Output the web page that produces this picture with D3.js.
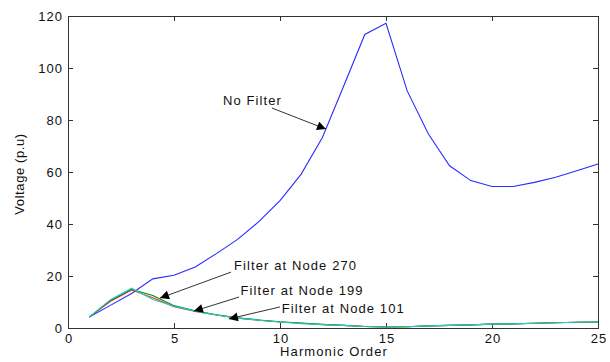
<!DOCTYPE html>
<html>
  <head>
    <title>Harmonic voltage</title>
    <script src="https://cdn.jsdelivr.net/npm/d3@7"></script>
    <style>
      body { margin: 0; background: #fff; }
      text { font-family: Arial, "Liberation Sans", sans-serif; letter-spacing: 1px; }
    </style>
  </head>
  <body>
    <svg width="610" height="362" id="mainsvg"></svg>
    <script>
        // data
        const harmonics = d3.range(1, 26);
        const noFilter = [4.2, 8.7, 13.3, 18.9, 20.3, 23.5, 28.6, 34.1, 40.9, 49, 59.2, 73.3, 93, 112.9, 117.2,
                          91.2, 74.6, 62.4, 56.7, 54.4, 54.4, 56, 58, 60.5, 63.1];
        const node270 = [4.2, 10.3, 14.6, 11.6, 8.2, 6.4, 5.0, 3.8, 3.0, 2.3, 1.8, 1.3, 1.0, 0.6, 0.4,
                         0.5, 0.8, 1.0, 1.2, 1.5, 1.6, 1.8, 2.0, 2.2, 2.3];
        const node199 = [4.2, 10.6, 14.9, 12.5, 8.6, 6.6, 5.1, 3.9, 3.1, 2.4, 1.9, 1.4, 1.0, 0.6, 0.4,
                         0.5, 0.8, 1.0, 1.2, 1.5, 1.6, 1.8, 2.0, 2.2, 2.3];
        const node101 = [4.2, 10.9, 15.3, 11.0, 8.4, 6.5, 5.0, 3.8, 3.0, 2.3, 1.7, 1.3, 1.0, 0.6, 0.4,
                         0.5, 0.8, 1.0, 1.2, 1.5, 1.6, 1.8, 2.0, 2.2, 2.3];
        const xTicks = [0, 5, 10, 15, 20, 25];
        const yTicks = [0, 20, 40, 60, 80, 100, 120];

        const series = [
          {name: 'No Filter', values: noFilter, color: '#2b2bff'},
          {name: 'Filter at Node 270', values: node270, color: '#ff2020'},
          {name: 'Filter at Node 199', values: node199, color: '#008a00'},
          {name: 'Filter at Node 101', values: node101, color: '#22cccc'}
        ];

        // label text position + arrow tail -> tip, in data units
        const notes = [
          {text: 'No Filter', tx: 7.31, ty: 85.8, x1: 9.62, y1: 84.6, x2: 12.17, y2: 76.5},
          {text: 'Filter at Node 270', tx: 7.83, ty: 22.3, x1: 7.69, y1: 21.5, x2: 4.34, y2: 11.5},
          {text: 'Filter at Node 199', tx: 8.14, ty: 12.7, x1: 8.07, y1: 11.9, x2: 5.94, y2: 6.5},
          {text: 'Filter at Node 101', tx: 10.08, ty: 5.8, x1: 10.0, y1: 8.1, x2: 7.59, y2: 3.5}
        ];

        const svg = d3.select('#mainsvg');
        const margin = {top: 16, right: 12, bottom: 34, left: 68};
        const innerWidth = 610 - margin.left - margin.right;
        const innerHeight = 362 - margin.top - margin.bottom;

        const g = svg.append('g')
          .attr('transform', `translate(${margin.left}, ${margin.top})`);

        const xScale = d3.scaleLinear().domain([0, 25]).range([0, innerWidth]);
        const yScale = d3.scaleLinear().domain([0, 120]).range([innerHeight, 0]);

        const axisColor = '#333';
        // MATLAB style: ticks point inward on all four sides
        const xAxis = g.append('g').attr('transform', `translate(0, ${innerHeight})`)
          .call(d3.axisBottom(xScale).tickValues(xTicks).tickSize(-5).tickPadding(6));
        const xTop = g.append('g')
          .call(d3.axisTop(xScale).tickValues(xTicks).tickSize(-5).tickFormat(''));
        const yAxis = g.append('g')
          .call(d3.axisLeft(yScale).tickValues(yTicks).tickSize(-5).tickPadding(5));
        const yRight = g.append('g').attr('transform', `translate(${innerWidth}, 0)`)
          .call(d3.axisRight(yScale).tickValues(yTicks).tickSize(-5).tickFormat(''));

        [xAxis, xTop, yAxis, yRight].forEach(a => {
          a.select('.domain').attr('stroke', axisColor);
          a.selectAll('.tick line').attr('stroke', axisColor);
          a.selectAll('.tick text').attr('font-size', 13).attr('fill', '#111');
        });
        xAxis.selectAll('.tick text').attr('dx', '0.5px');

        const line = d3.line()
          .x((d, i) => xScale(harmonics[i]))
          .y(d => yScale(d));

        series.forEach(s => {
          g.append('path')
            .attr('d', line(s.values))
            .attr('fill', 'none')
            .attr('stroke', s.color)
            .attr('stroke-width', 1.1);
        });

        svg.append('defs').append('marker')
          .attr('id', 'arrow')
          .attr('viewBox', '0 0 10 10')
          .attr('refX', 10).attr('refY', 5)
          .attr('markerWidth', 14).attr('markerHeight', 9)
          .attr('markerUnits', 'userSpaceOnUse')
          .attr('orient', 'auto')
          .append('path').attr('d', 'M0,0 L10,5 L0,10 z').attr('fill', '#000');

        notes.forEach(n => {
          g.append('line')
            .attr('x1', xScale(n.x1)).attr('y1', yScale(n.y1))
            .attr('x2', xScale(n.x2)).attr('y2', yScale(n.y2))
            .attr('stroke', '#333').attr('stroke-width', 1)
            .attr('marker-end', 'url(#arrow)');
          g.append('text')
            .attr('x', xScale(n.tx)).attr('y', yScale(n.ty))
            .attr('font-size', 13).attr('fill', '#111')
            .style('letter-spacing', '1.1px')
            .text(n.text);
        });

        svg.append('text').text('Harmonic Order')
          .attr('x', margin.left + innerWidth / 2 + 1).attr('y', 356)
          .attr('text-anchor', 'middle').attr('font-size', 13).attr('fill', '#111')
          .style('letter-spacing', '1.1px');

        svg.append('text').text('Voltage (p.u)')
          .attr('transform', `translate(24, ${margin.top + innerHeight / 2 + 2}) rotate(-90)`)
          .attr('text-anchor', 'middle').attr('font-size', 13).attr('fill', '#111')
          .style('letter-spacing', '0.6px');
    </script>
  </body>
</html>
